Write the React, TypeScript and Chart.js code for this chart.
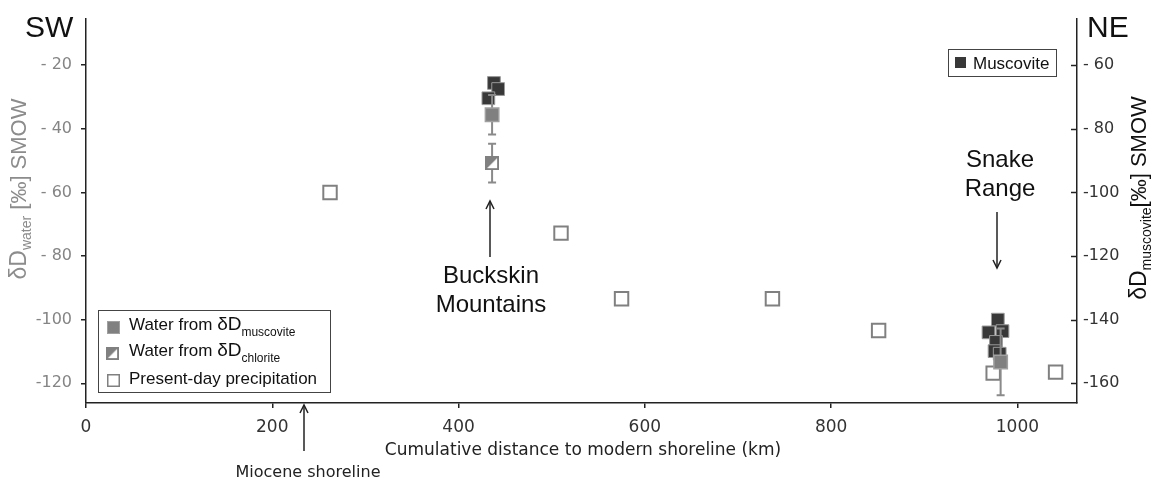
import React, { useEffect, useRef } from 'react';
import { Chart, registerables } from 'chart.js';
Chart.register(...registerables);

// ---- data ----
const xTicks = [0, 200, 400, 600, 800, 1000];
const xTickLabels = ['0', '200', '400', '600', '800', '1000'];
const leftTicks = [-120, -100, -80, -60, -40, -20];
const leftTickLabels = ['-120', '-100', '- 80', '- 60', '- 40', '- 20'];
const rightTicks = [-160, -140, -120, -100, -80, -60];
const rightTickLabels = ['-160', '-140', '-120', '-100', '- 80', '- 60'];

const precipX = [262, 510, 575, 737, 851, 974, 1041];
const precipY = [-60, -72.8, -93.4, -93.4, -103.4, -116.8, -116.5];

const muscoviteX = [438, 442.5, 432, 979, 969, 984, 977, 975.5, 981];
const muscoviteY = [-65.6, -67.5, -70.4, -140, -144, -143.6, -147, -149.9, -150.7];

const waterMuscX = [436, 982];
const waterMuscY = [-35.6, -113.3];
const waterMuscErr = [6.2, 10.5];

const waterChlX = [436];
const waterChlY = [-50.8];
const waterChlErr = [6.1];

const X_MIN = 0, X_MAX = 1064;
const Y_MIN = -126.2, Y_MAX = -5.36;
const Y2_MIN = -166.2, Y2_MAX = -45.36;

const GRAY = '#808080';
const DARK = '#383838';
const AXIS = '#222222';
const LF = '"Liberation Sans", Arial, sans-serif';
const DJ = '"DejaVu Sans", sans-serif';

function makeChloriteMarker(size: number) {
  const c = document.createElement('canvas');
  c.width = size; c.height = size;
  const g = c.getContext('2d')!;
  g.fillStyle = '#ffffff';
  g.fillRect(0, 0, size, size);
  g.fillStyle = GRAY;
  g.beginPath(); g.moveTo(0, 0); g.lineTo(size, 0); g.lineTo(0, size); g.closePath(); g.fill();
  g.strokeStyle = GRAY; g.lineWidth = 2;
  g.strokeRect(1, 1, size - 2, size - 2);
  return c;
}

function arrow(ctx: CanvasRenderingContext2D, x: number, y0: number, y1: number) {
  ctx.save();
  ctx.strokeStyle = AXIS; ctx.lineWidth = 1.5;
  ctx.beginPath(); ctx.moveTo(x, y0); ctx.lineTo(x, y1); ctx.stroke();
  const d = y1 > y0 ? -1 : 1;
  ctx.beginPath();
  ctx.moveTo(x - 4, y1 + d * 8); ctx.lineTo(x, y1); ctx.lineTo(x + 4, y1 + d * 8);
  ctx.stroke();
  ctx.restore();
}

function txt(ctx: CanvasRenderingContext2D, s: string, x: number, y: number, font: string, color: string, align: CanvasTextAlign = 'left') {
  ctx.font = font; ctx.fillStyle = color; ctx.textAlign = align; ctx.textBaseline = 'alphabetic';
  ctx.fillText(s, x, y);
}

type Part = { t: string; font: string; dy: number };
function partsWidth(ctx: CanvasRenderingContext2D, parts: Part[]) {
  let w = 0;
  for (const p of parts) { ctx.font = p.font; w += ctx.measureText(p.t).width; }
  return w;
}
function drawParts(ctx: CanvasRenderingContext2D, parts: Part[], x: number, y: number, color: string) {
  let cx = x;
  ctx.fillStyle = color; ctx.textAlign = 'left'; ctx.textBaseline = 'alphabetic';
  for (const p of parts) { ctx.font = p.font; ctx.fillText(p.t, cx, y + p.dy); cx += ctx.measureText(p.t).width; }
}
function rotatedParts(ctx: CanvasRenderingContext2D, parts: Part[], x: number, yCenter: number, color: string) {
  ctx.save();
  const w = partsWidth(ctx, parts);
  ctx.translate(x, yCenter + w / 2);
  ctx.rotate(-Math.PI / 2);
  drawParts(ctx, parts, 0, 0, color);
  ctx.restore();
}

export default function App() {
  const ref = useRef<HTMLCanvasElement>(null);
  useEffect(() => {
    const canvas = ref.current!;
    const chlMarker = makeChloriteMarker(14);

    const annot = {
      id: 'annot',
      beforeDatasetDraw(chart: any, args: any) {
        if (args.index !== 2) return;
        const ctx = chart.ctx as CanvasRenderingContext2D;
        const xs = chart.scales.x, ys = chart.scales.y;
        const bars: number[][] = [];
        waterMuscX.forEach((x, i) => bars.push([x, waterMuscY[i], waterMuscErr[i]]));
        waterChlX.forEach((x, i) => bars.push([x, waterChlY[i], waterChlErr[i]]));
        ctx.save();
        ctx.strokeStyle = '#8a8a8a'; ctx.lineWidth = 2;
        for (const [x, y, e] of bars) {
          const px = xs.getPixelForValue(x);
          const t = ys.getPixelForValue(y + e), b = ys.getPixelForValue(y - e);
          ctx.beginPath();
          ctx.moveTo(px, t); ctx.lineTo(px, b);
          ctx.moveTo(px - 4, t); ctx.lineTo(px + 4, t);
          ctx.moveTo(px - 4, b); ctx.lineTo(px + 4, b);
          ctx.stroke();
        }
        ctx.restore();
      },
      afterDraw(chart: any) {
        const ctx = chart.ctx as CanvasRenderingContext2D;
        const area = chart.chartArea;
        const y2 = chart.scales.y2;
        ctx.save();
        // inner ticks on right axis
        ctx.strokeStyle = AXIS; ctx.lineWidth = 1.5;
        for (const v of rightTicks) {
          const py = Math.round(y2.getPixelForValue(v)) + 0.5;
          ctx.beginPath(); ctx.moveTo(area.right - 6, py); ctx.lineTo(area.right, py); ctx.stroke();
        }
        // corner labels
        txt(ctx, 'SW', 25, 37, `30px ${LF}`, '#111');
        txt(ctx, 'NE', 1087, 37, `30px ${LF}`, '#111');

        // axis titles
        rotatedParts(ctx, [
          { t: 'δD', font: `23px ${LF}`, dy: 0 },
          { t: 'water', font: `14px ${LF}`, dy: 5 },
          { t: ' [‰] SMOW', font: `22px ${LF}`, dy: 0 },
        ], 26, 189, '#8c8c8c');
        rotatedParts(ctx, [
          { t: 'δD', font: `23px ${LF}`, dy: 0 },
          { t: 'muscovite', font: `14px ${LF}`, dy: 5 },
          { t: '[‰] SMOW', font: `22px ${LF}`, dy: 0 },
        ], 1146, 198, '#111');
        txt(ctx, 'Cumulative distance to modern shoreline (km)', 583, 455, `17px ${DJ}`, '#222', 'center');

        // annotations
        txt(ctx, 'Buckskin', 491, 283, `24px ${LF}`, '#111', 'center');
        txt(ctx, 'Mountains', 491, 312, `24px ${LF}`, '#111', 'center');
        arrow(ctx, 490, 257, 201);
        txt(ctx, 'Snake', 1000, 167, `24px ${LF}`, '#111', 'center');
        txt(ctx, 'Range', 1000, 196, `24px ${LF}`, '#111', 'center');
        arrow(ctx, 997, 212, 268);
        txt(ctx, 'Miocene shoreline', 308, 477, `16px ${DJ}`, '#222', 'center');
        arrow(ctx, 304, 451, 405);

        // legend 1
        ctx.strokeStyle = '#444'; ctx.lineWidth = 1;
        ctx.strokeRect(98.5, 310.5, 232, 82);
        ctx.fillStyle = GRAY; ctx.fillRect(107, 321, 13, 13);
        ctx.strokeStyle = '#a0a0a0'; ctx.lineWidth = 1; ctx.strokeRect(107.5, 321.5, 12, 12);
        ctx.drawImage(chlMarker, 106, 347, 13, 13);
        ctx.fillStyle = '#fff'; ctx.fillRect(107, 374, 13, 13);
        ctx.strokeStyle = GRAY; ctx.lineWidth = 1.5; ctx.strokeRect(107.75, 374.75, 11.5, 11.5);
        drawParts(ctx, [
          { t: 'Water from ', font: `17px ${LF}`, dy: 0 },
          { t: 'δD', font: `19px ${LF}`, dy: 0 },
          { t: 'muscovite', font: `12px ${LF}`, dy: 6 },
        ], 129, 330, '#111');
        drawParts(ctx, [
          { t: 'Water from ', font: `17px ${LF}`, dy: 0 },
          { t: 'δD', font: `19px ${LF}`, dy: 0 },
          { t: 'chlorite', font: `12px ${LF}`, dy: 6 },
        ], 129, 356, '#111');
        txt(ctx, 'Present-day precipitation', 129, 384, `17px ${LF}`, '#111');

        // legend 2
        ctx.strokeStyle = '#444'; ctx.lineWidth = 1;
        ctx.strokeRect(948.5, 49.5, 108, 27);
        ctx.fillStyle = DARK; ctx.fillRect(955, 57, 11, 11);
        txt(ctx, 'Muscovite', 973, 69, `17px ${LF}`, '#111');
        ctx.restore();
      },
    };

    const chart = new Chart(canvas, {
      type: 'scatter',
      data: {
        datasets: [
          {
            label: 'Present-day precipitation',
            data: precipX.map((x, i) => ({ x, y: precipY[i] })),
            yAxisID: 'y', pointStyle: 'rect', pointRadius: 9.5,
            backgroundColor: '#ffffff', borderColor: GRAY, borderWidth: 2, order: 4,
          },
          {
            label: 'Muscovite',
            data: muscoviteX.map((x, i) => ({ x, y: muscoviteY[i] })),
            yAxisID: 'y2', pointStyle: 'rect', pointRadius: 9,
            backgroundColor: DARK, borderColor: '#9a9a9a', borderWidth: 1, order: 3,
          },
          {
            label: 'Water from δD chlorite',
            data: waterChlX.map((x, i) => ({ x, y: waterChlY[i] })),
            yAxisID: 'y', pointStyle: chlMarker as any, pointRadius: 7, order: 2,
          },
          {
            label: 'Water from δD muscovite',
            data: waterMuscX.map((x, i) => ({ x, y: waterMuscY[i] })),
            yAxisID: 'y', pointStyle: 'rect', pointRadius: 9.5,
            backgroundColor: GRAY, borderColor: '#a0a0a0', borderWidth: 1.5, order: 1,
          },
        ] as any,
      },
      options: {
        animation: false,
        responsive: true,
        maintainAspectRatio: false,
        events: [],
        layout: { padding: { top: 15, left: 0, right: 0, bottom: 0 } },
        plugins: { legend: { display: false }, tooltip: { enabled: false }, title: { display: false } },
        scales: {
          x: {
            type: 'linear', min: X_MIN, max: X_MAX,
            afterBuildTicks: (s: any) => { s.ticks = xTicks.map((v) => ({ value: v })); },
            afterFit: (s: any) => { s.height = 77; },
            ticks: {
              font: { family: 'DejaVu Sans', size: 17 }, color: '#333', padding: 9, maxRotation: 0,
              callback: (v: any) => xTickLabels[xTicks.indexOf(Number(v))] ?? '',
            },
            grid: { drawOnChartArea: false, tickLength: 5, color: AXIS, lineWidth: 1.5 },
            border: { color: AXIS, width: 1.5 },
          },
          y: {
            type: 'linear', position: 'left', min: Y_MIN, max: Y_MAX,
            afterBuildTicks: (s: any) => { s.ticks = leftTicks.map((v) => ({ value: v })); },
            afterFit: (s: any) => { s.width = 86; },
            ticks: {
              font: { family: 'DejaVu Sans', size: 16 }, color: '#858585', padding: 9,
              callback: (v: any) => leftTickLabels[leftTicks.indexOf(Number(v))] ?? '',
            },
            grid: { drawOnChartArea: false, tickLength: 5, color: AXIS, lineWidth: 1.5 },
            border: { color: AXIS, width: 1.5 },
          },
          y2: {
            type: 'linear', position: 'right', min: Y2_MIN, max: Y2_MAX,
            afterBuildTicks: (s: any) => { s.ticks = rightTicks.map((v) => ({ value: v })); },
            afterFit: (s: any) => { s.width = 76; },
            ticks: {
              font: { family: 'DejaVu Sans', size: 16 }, color: '#333', padding: 6,
              callback: (v: any) => rightTickLabels[rightTicks.indexOf(Number(v))] ?? '',
            },
            grid: { drawOnChartArea: false, drawTicks: false, color: AXIS, lineWidth: 1.5 },
            border: { color: AXIS, width: 1.5 },
          },
        },
      } as any,
      plugins: [annot],
    });
    return () => chart.destroy();
  }, []);
  return (
    <div style={{ position: 'absolute', left: 0, top: 0, width: 1153, height: 480, background: '#fff' }}>
      <canvas ref={ref} />
    </div>
  );
}
